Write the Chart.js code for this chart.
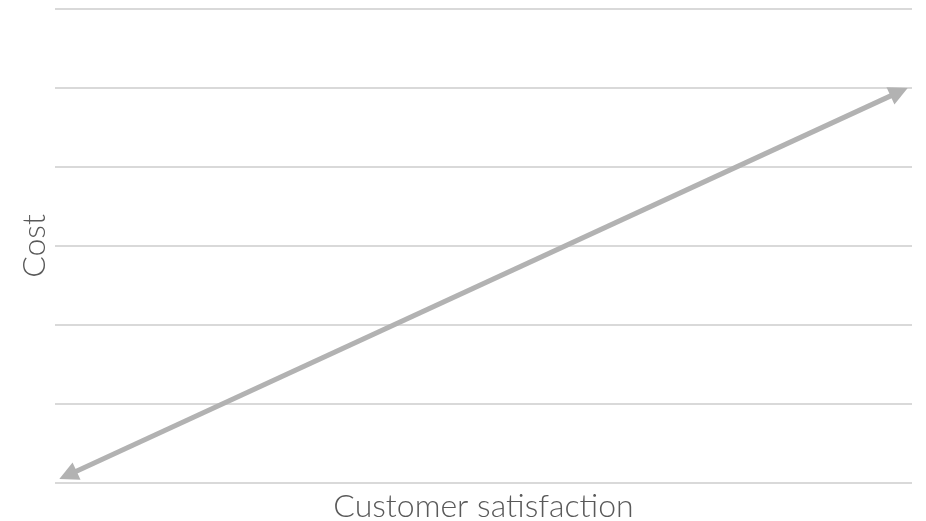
<!DOCTYPE html>
<html>
<head>
<meta charset="utf-8">
<script src="https://cdn.jsdelivr.net/npm/chart.js@4"></script>
<style>
    html, body { margin: 0; padding: 0; background: #fff; }
    #wrap { width: 926px; height: 521px; }
</style>
</head>
<body>
<div id="wrap"><canvas id="myChart"></canvas></div>
<script>
// line end points (x in 0..100, y in 0..6)
const xValues = [0.5, 99.5]
const yValues = [0.05, 5.0]
const xTitle = 'Customer satisfaction'
const yTitle = 'Cost'

const lineColor = '#b2b2b2'
const arrowLen = 19
const arrowHalf = 9.5

// draws arrow heads on both ends and pulls the line back under them
const arrowPlugin = {
    id: 'arrows',
    afterDatasetsUpdate(chart) {
        const meta = chart.getDatasetMeta(0)
        const pts = meta.data
        const a = pts[0], b = pts[pts.length - 1]
        const tips = [{ x: a.x, y: a.y }, { x: b.x, y: b.y }]
        chart.$tips = tips
        const dx = tips[1].x - tips[0].x, dy = tips[1].y - tips[0].y
        const len = Math.sqrt(dx * dx + dy * dy)
        const ux = dx / len, uy = dy / len
        const back = arrowLen - 2
        a.x = tips[0].x + ux * back; a.y = tips[0].y + uy * back
        b.x = tips[1].x - ux * back; b.y = tips[1].y - uy * back
    },
    afterDatasetsDraw(chart) {
        const tips = chart.$tips
        if (!tips) return
        const ctx = chart.ctx
        const dx = tips[1].x - tips[0].x, dy = tips[1].y - tips[0].y
        const len = Math.sqrt(dx * dx + dy * dy)
        const ux = dx / len, uy = dy / len
        ctx.save()
        ctx.fillStyle = lineColor
        ;[[tips[0], -1], [tips[1], 1]].forEach(([t, s]) => {
            const bx = t.x - s * ux * arrowLen, by = t.y - s * uy * arrowLen
            ctx.beginPath()
            ctx.moveTo(t.x, t.y)
            ctx.lineTo(bx - uy * arrowHalf, by + ux * arrowHalf)
            ctx.lineTo(bx + uy * arrowHalf, by - ux * arrowHalf)
            ctx.closePath()
            ctx.fill()
        })
        ctx.restore()
    }
}

const ctx1 = document.getElementById('myChart')
const myChart = new Chart(ctx1, {
    type: 'scatter',
    data: {
        datasets: [{
            data: xValues.map((x, i) => ({ x: x, y: yValues[i] })),
            showLine: true,
            borderColor: lineColor,
            borderWidth: 5,
            borderCapStyle: 'butt',
            pointRadius: 0,
            pointHoverRadius: 0,
        }]
    },
    options: {
        responsive: true,
        maintainAspectRatio: false,
        animation: false,
        layout: { padding: { top: 9, right: 14, left: 0, bottom: 0 } },
        plugins: {
            legend: { display: false },
            tooltip: { enabled: false },
        },
        scales: {
            x: {
                type: 'linear',
                min: 0,
                max: 100,
                ticks: { display: false },
                grid: { display: false },
                border: { display: false },
                title: {
                    display: true,
                    text: xTitle,
                    color: '#595959',
                    font: { family: 'Lato', size: 32, weight: 300, lineHeight: 1.1 },
                    padding: { top: 0, bottom: -3 },
                },
                afterFit(scale) { scale.height = 38 },
            },
            y: {
                min: 0,
                max: 6,
                ticks: { display: false, stepSize: 1 },
                grid: { color: '#d9d9d9', lineWidth: 2, drawTicks: false },
                border: { display: false },
                title: {
                    display: true,
                    text: yTitle,
                    color: '#595959',
                    font: { family: 'Lato', size: 32, weight: 300, lineHeight: 1.1 },
                    padding: { top: 17, bottom: 0 },
                },
                afterFit(scale) { scale.width = 55 },
            },
        }
    },
    plugins: [arrowPlugin],
})
</script>
</body>
</html>
